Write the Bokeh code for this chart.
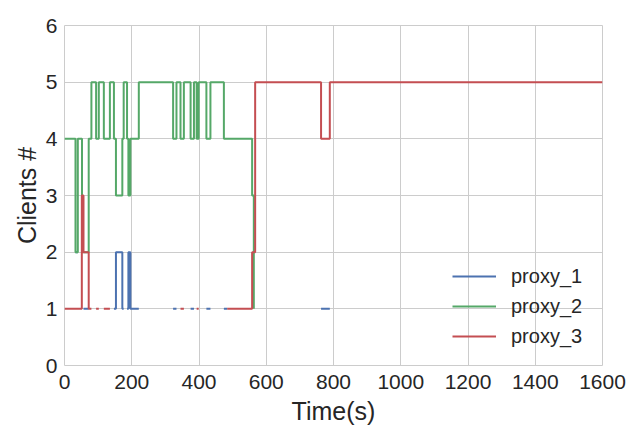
import math
from bokeh.plotting import figure
from bokeh.models import FixedTicker, Range1d
from bokeh.embed import file_html
from bokeh.resources import INLINE

NAN = float("nan")

# change points (time in s) and the value held from that time on; NAN = proxy absent
p1_times = [32.7, 39.6, 56.5, 72, 147, 153, 172, 176, 186, 190, 196, 221,
            323, 333, 375, 385, 422, 434, 474, 484, 763, 789]
p1_values = [2, NAN, 1, NAN, 1, 2, 1, NAN, 1, 2, 1, NAN,
             1, NAN, 1, NAN, 1, NAN, 1, NAN, 1, NAN]
p1_end = 789

p2_times = [0, 32.7, 39.6, 52, 72, 80, 94, 102, 117, 135, 147, 153, 172, 176,
            186, 190, 196, 221, 323, 333, 345, 355, 375, 385, 393, 399, 422, 434,
            474, 558, 563]
p2_values = [4, 2, 4, 2, 4, 5, 4, 5, 4, 5, 4, 3, 4, 5,
             4, 3, 4, 5, 4, 5, 4, 5, 4, 5, 4, 5, 4, 5,
             4, 3, 1]
p2_end = 563

p3_times = [0, 51.5, 56.5, 72, 80, 94, 102, 117, 135, 345, 355, 393, 399,
            484, 558, 567, 763, 789]
p3_values = [1, 3, 2, 1, NAN, 1, NAN, 1, NAN, 1, NAN, 1, NAN,
             1, 2, 5, 4, 5]
p3_end = 1600

names = ["proxy_1", "proxy_2", "proxy_3"]
colors = ["#4C72B0", "#55A868", "#C44E52"]
x_ticks = [0, 200, 400, 600, 800, 1000, 1200, 1400, 1600]
y_ticks = [0, 1, 2, 3, 4, 5, 6]


def step_path(times, values, t_end):
    xs, ys = [], []
    for i, (t, v) in enumerate(zip(times, values)):
        t_next = times[i + 1] if i + 1 < len(times) else t_end
        if isinstance(v, float) and math.isnan(v):
            xs.append(NAN)
            ys.append(NAN)
            continue
        xs += [t, t_next]
        ys += [v, v]
    return xs, ys


FONT = "Liberation Sans"
TXT = "#262626"

p = figure(width=632, height=432, output_backend="svg", toolbar_location=None,
           x_range=Range1d(0, 1600), y_range=Range1d(0, 6),
           min_border_left=64, min_border_right=30, min_border_top=25,
           min_border_bottom=67)
p.background_fill_color = "white"
p.border_fill_color = "white"
p.outline_line_color = "#cccccc"
p.outline_line_width = 1

series = [(p1_times, p1_values, p1_end), (p2_times, p2_values, p2_end),
          (p3_times, p3_values, p3_end)]
for (t, v, e), name, c in zip(series, names, colors):
    xs, ys = step_path(t, v, e)
    p.line(xs, ys, line_color=c, line_width=2, legend_label=name)

p.xaxis.ticker = FixedTicker(ticks=x_ticks)
p.yaxis.ticker = FixedTicker(ticks=y_ticks)
p.xaxis.axis_label = "Time(s)"
p.yaxis.axis_label = "Clients #"
for ax in (p.xaxis, p.yaxis):
    ax.axis_line_color = None
    ax.major_tick_line_color = None
    ax.minor_tick_line_color = None
    ax.major_tick_out = 0
    ax.major_tick_in = 0
    ax.major_label_text_font = FONT
    ax.major_label_text_font_size = "21px"
    ax.major_label_text_color = TXT
    ax.axis_label_text_font = FONT
    ax.axis_label_text_font_size = "25px"
    ax.axis_label_text_font_style = "normal"
    ax.axis_label_text_color = TXT
p.xaxis.major_label_standoff = 9
p.yaxis.major_label_standoff = 7
p.xaxis.axis_label_standoff = 5
p.yaxis.axis_label_standoff = 2

p.grid.grid_line_color = "#cccccc"
p.grid.grid_line_width = 1

lg = p.legend[0]
lg.location = (388, 17)
lg.border_line_color = None
lg.background_fill_alpha = 0
lg.padding = 0
lg.margin = 0
lg.spacing = 6
lg.glyph_width = 44
lg.glyph_height = 24
lg.label_height = 24
lg.label_standoff = 15
lg.label_text_font = FONT
lg.label_text_font_size = "20px"
lg.label_text_color = TXT

open("out.html", "w").write(file_html(p, INLINE))
